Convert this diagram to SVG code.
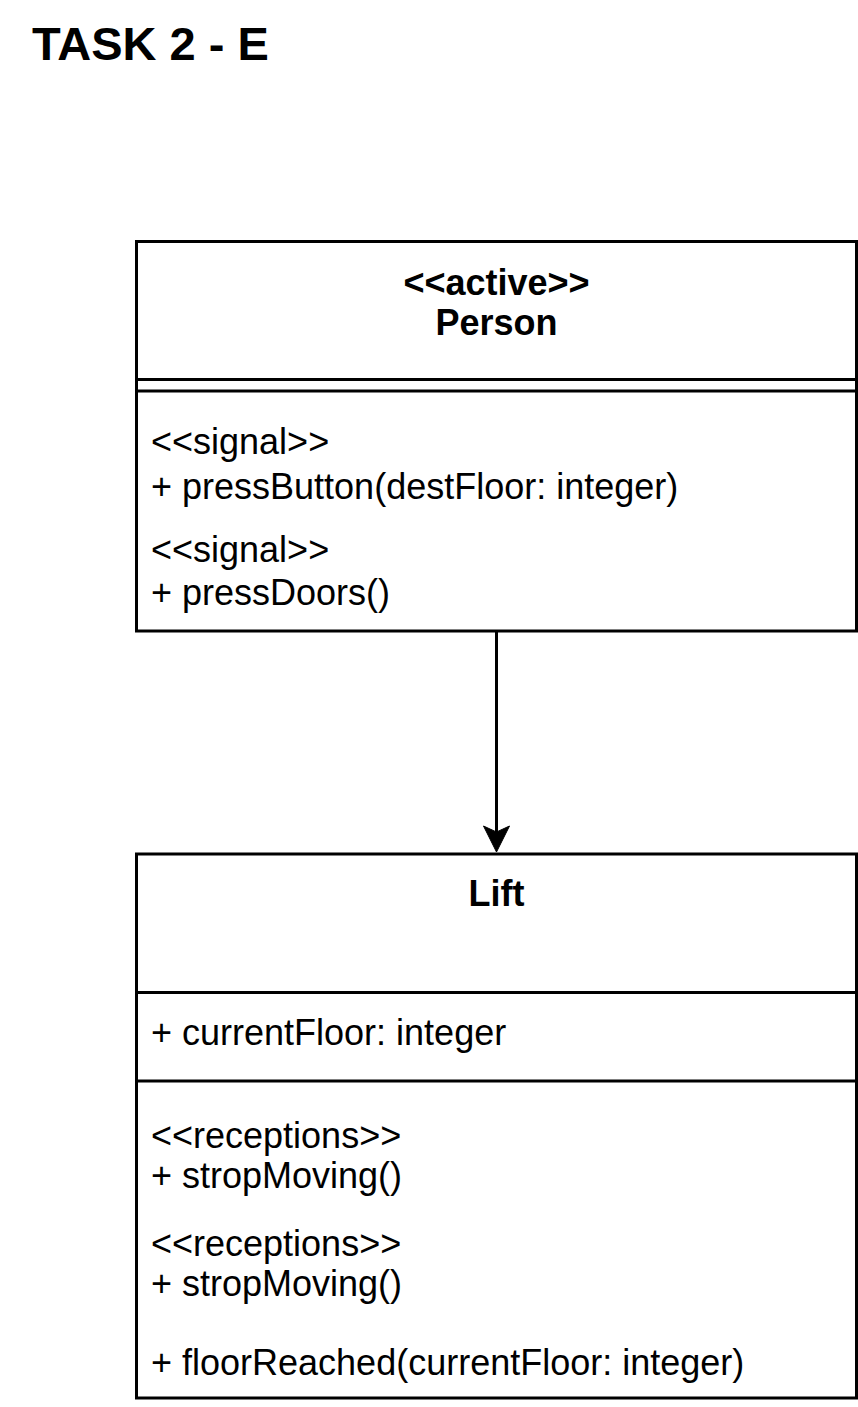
<svg xmlns="http://www.w3.org/2000/svg" width="858" height="1407" viewBox="0 0 858 1407">
  <style>
    .box { fill: #ffffff; stroke: #000000; stroke-width: 3; }
    .div { stroke: #000000; stroke-width: 3; fill: none; }
    .t { font-family: "Liberation Sans", Arial, Helvetica, sans-serif; font-size: 36px; fill: #000000; }
    .b { font-weight: bold; text-anchor: middle; }
    .title { font-family: "Liberation Sans", Arial, Helvetica, sans-serif; font-size: 47px; font-weight: bold; fill: #000000; }
    .edge { stroke: #000000; stroke-width: 3; fill: none; }
    .head { fill: #000000; stroke: #000000; stroke-width: 1; }
  </style>
  <rect width="858" height="1407" fill="#ffffff"/>
  <text id="title" class="title" x="32" y="60">TASK 2 - E</text>

  <g id="person">
    <rect class="box" x="136.5" y="241.5" width="720" height="389.5"/>
    <line class="div" x1="136.5" y1="379.5" x2="856.5" y2="379.5"/>
    <line class="div" x1="136.5" y1="391" x2="856.5" y2="391"/>
    <text class="t b" x="496.5" y="295">&lt;&lt;active&gt;&gt;</text>
    <text class="t b" x="496.5" y="335">Person</text>
    <text class="t" x="151" y="454">&lt;&lt;signal&gt;&gt;</text>
    <text class="t" x="151" y="499">+ pressButton(destFloor: integer)</text>
    <text class="t" x="151" y="562">&lt;&lt;signal&gt;&gt;</text>
    <text class="t" x="151" y="605">+ pressDoors()</text>
  </g>

  <g id="lift">
    <rect class="box" x="136.5" y="854" width="720" height="544"/>
    <line class="div" x1="136.5" y1="992.5" x2="856.5" y2="992.5"/>
    <line class="div" x1="136.5" y1="1081" x2="856.5" y2="1081"/>
    <text class="t b" x="496.5" y="906">Lift</text>
    <text class="t" x="151" y="1045">+ currentFloor: integer</text>
    <text class="t" x="151" y="1148">&lt;&lt;receptions&gt;&gt;</text>
    <text class="t" x="151" y="1188">+ stropMoving()</text>
    <text class="t" x="151" y="1256">&lt;&lt;receptions&gt;&gt;</text>
    <text class="t" x="151" y="1296">+ stropMoving()</text>
    <text class="t" x="151" y="1375">+ floorReached(currentFloor: integer)</text>
  </g>

  <g id="connectors">
    <line class="edge" x1="496.5" y1="631" x2="496.5" y2="834"/>
    <path class="head" d="M496.5,852 L483.5,826 L496.5,832 L509.5,826 Z"/>
  </g>
</svg>
